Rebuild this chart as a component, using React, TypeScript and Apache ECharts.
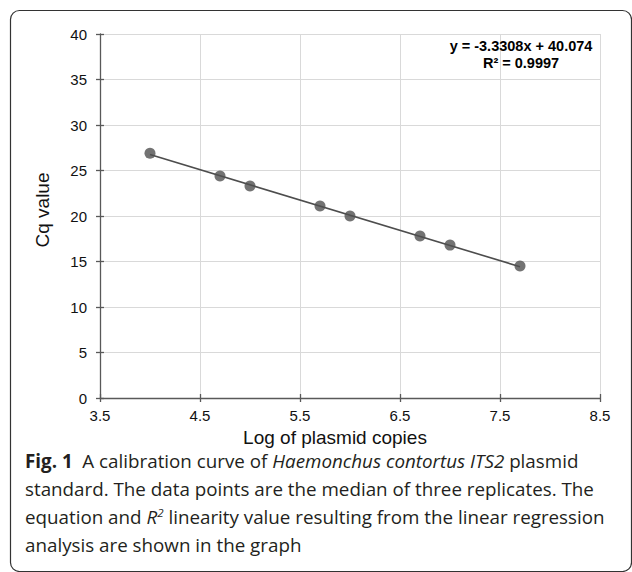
import React, { useEffect, useRef } from "react";
import * as echarts from "echarts";

const logCopies = [4.0, 4.7, 5.0, 5.7, 6.0, 6.7, 7.0, 7.7];
const cqValues = [26.9, 24.4, 23.3, 21.1, 20.0, 17.8, 16.8, 14.5];
const trendX = [4.0, 7.7];
const trendY = [26.75, 14.43];
const equationLines = ["y = -3.3308x + 40.074", "R\u00b2 = 0.9997"];
const xAxisName = "Log of plasmid copies";
const yAxisName = "Cq value";

const AX_FONT = "'Liberation Sans', Arial, Helvetica, sans-serif";
const CAP_FONT = "'Open Sans', 'Noto Sans', sans-serif";

export default function App() {
  const ref = useRef<HTMLDivElement>(null);
  useEffect(() => {
    if (!ref.current) return;
    const chart = echarts.init(ref.current, undefined, { renderer: "svg" });
    const gridBox = { left: 100, right: 32, top: 34, bottom: 174 };
    const axisColor = "#595959";
    const capSize = 18.8;
    const capLH = 28;
    const capBase = { fontFamily: CAP_FONT, fontSize: capSize, lineHeight: capLH, fill: "#231f20", verticalAlign: "middle" };
    chart.setOption({
      animation: false,
      backgroundColor: "#ffffff",
      grid: [
        { ...gridBox, containLabel: false },
        { ...gridBox, containLabel: false },
      ],
      xAxis: [
        {
          type: "value",
          gridIndex: 0,
          min: 3.5,
          max: 8.5,
          interval: 1,
          name: xAxisName,
          nameLocation: "middle",
          nameGap: 25,
          nameTextStyle: { fontFamily: AX_FONT, fontSize: 19, color: "#111", padding: [0, 30, 0, 0] },
          axisLine: { show: true, onZero: false, lineStyle: { color: axisColor, width: 1.3 } },
          axisTick: { show: true, inside: false, length: 4, lineStyle: { color: axisColor, width: 1.3 } },
          axisLabel: {
            margin: 10,
            fontFamily: AX_FONT,
            fontSize: 15,
            color: "#111",
            formatter: (v: number) => v.toFixed(1),
          },
          splitLine: { show: true, lineStyle: { color: "#d9d9d9", width: 1 } },
        },
        {
          type: "value",
          gridIndex: 1,
          min: 3.5,
          max: 8.5,
          interval: 1,
          axisLine: { show: false },
          axisTick: { show: true, inside: true, length: 4, lineStyle: { color: axisColor, width: 1.3 } },
          axisLabel: { show: false },
          splitLine: { show: false },
        },
      ],
      yAxis: [
        {
          type: "value",
          gridIndex: 0,
          min: 0,
          max: 40,
          interval: 5,
          name: yAxisName,
          nameLocation: "middle",
          nameGap: 48,
          nameTextStyle: { fontFamily: AX_FONT, fontSize: 19, color: "#111", padding: [0, 0, 0, 12] },
          axisLine: { show: true, onZero: false, lineStyle: { color: axisColor, width: 1.3 } },
          axisTick: { show: true, inside: false, length: 4, lineStyle: { color: axisColor, width: 1.3 } },
          axisLabel: { margin: 13, fontFamily: AX_FONT, fontSize: 15, color: "#111" },
          splitLine: { show: true, lineStyle: { color: "#d9d9d9", width: 1 } },
        },
        {
          type: "value",
          gridIndex: 1,
          min: 0,
          max: 40,
          interval: 5,
          axisLine: { show: false },
          axisTick: { show: true, inside: true, length: 4, lineStyle: { color: axisColor, width: 1.3 } },
          axisLabel: { show: false },
          splitLine: { show: false },
        },
      ],
      series: [
        {
          type: "line",
          xAxisIndex: 0,
          yAxisIndex: 0,
          data: trendX.map((x, i) => [x, trendY[i]]),
          showSymbol: false,
          symbol: "none",
          lineStyle: { color: "#4d4d4d", width: 1.6 },
          z: 2,
          silent: true,
        },
        {
          type: "scatter",
          xAxisIndex: 0,
          yAxisIndex: 0,
          data: logCopies.map((x, i) => [x, cqValues[i]]),
          symbol: "circle",
          symbolSize: 11,
          itemStyle: { color: "#505050" },
          z: 3,
        },
      ],
      graphic: [
        {
          type: "rect",
          shape: { x: 10.5, y: 10.5, width: 621, height: 561, r: 9 },
          style: { fill: "none", stroke: "#333", lineWidth: 1.2 },
          silent: true,
          z: 10,
        },
        {
          type: "text",
          x: 521,
          y: 46,
          style: {
            text: equationLines[0],
            fontFamily: AX_FONT,
            fontSize: 14.5,
            fontWeight: "bold",
            fill: "#000",
            align: "center",
            verticalAlign: "middle",
          },
          z: 10,
        },
        {
          type: "text",
          x: 521,
          y: 63,
          style: {
            text: equationLines[1],
            fontFamily: AX_FONT,
            fontSize: 14.5,
            fontWeight: "bold",
            fill: "#000",
            align: "center",
            verticalAlign: "middle",
          },
          z: 10,
        },
        {
          type: "text",
          x: 25,
          y: 447,
          style: {
            text:
              "{b|Fig. 1}{n|  A calibration curve of }{i|Haemonchus contortus ITS2}{n| plasmid}\n" +
              "{n|standard. The data points are the median of three replicates. The}\n" +
              "{n|equation and }{i|R}{s|2}{n| linearity value resulting from the linear regression}\n" +
              "{n|analysis are shown in the graph}",
            ...capBase,
            align: "left",
            verticalAlign: "top",
            rich: {
              n: { ...capBase },
              b: { ...capBase, fontWeight: "bold" },
              i: { ...capBase, fontStyle: "italic" },
              s: {
                fontFamily: CAP_FONT,
                fontSize: 11.5,
                lineHeight: capLH,
                fill: "#231f20",
                fontStyle: "italic",
                verticalAlign: "top",
                padding: [3, 0, 0, 0],
              },
            },
          },
          z: 10,
        },
      ],
    });
    return () => chart.dispose();
  }, []);
  return (
    <div
      ref={ref}
      style={{ position: "absolute", left: 0, top: 0, width: 632, height: 572, background: "#fff" }}
    />
  );
}
